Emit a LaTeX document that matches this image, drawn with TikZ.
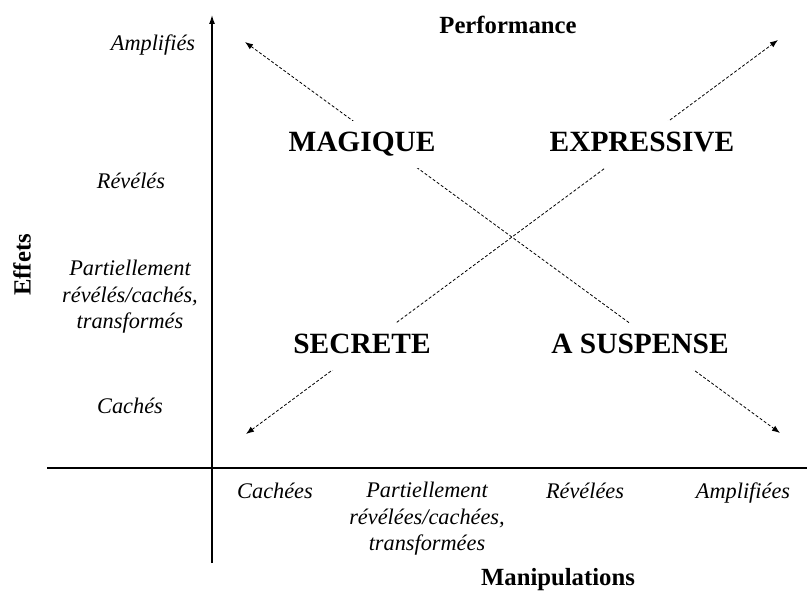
\documentclass[tikz,border=0pt]{standalone}
\usepackage{fontspec}
\setmainfont{Liberation Serif}
\usetikzlibrary{arrows.meta}

\begin{document}
\begin{tikzpicture}[x=1pt, y=-1pt, every node/.style={inner sep=0pt},
    ticklabel/.style={font=\fontsize{22.3}{26.5}\selectfont\itshape, align=center},
    tickline/.style={ticklabel, text height=16pt, text depth=5pt},
    axistitle/.style={font=\fontsize{24.7}{28}\selectfont\bfseries},
    quadrant/.style={font=\fontsize{29.4}{32}\selectfont\bfseries, fill=white,
        minimum height=47pt, inner xsep=6pt, text height=20pt, text depth=6pt},
    trend/.style={dash pattern=on 3pt off 2pt, line width=0.8pt,
        {Latex[length=8pt,width=6pt]}-{Latex[length=8pt,width=6pt]}}]
    \useasboundingbox (0,0) rectangle (807,607);

    % axes
    \coordinate (ybot) at (212,563);
    \coordinate (ytop) at (212,15);
    \coordinate (xleft) at (47,468);
    \coordinate (xright) at (807,468);
    \draw[line width=1.2pt, -{Latex[length=9pt,width=6pt]}] (ybot) -- (ytop);
    \draw[line width=1.2pt] (xleft) -- (xright);

    \node[axistitle] (perf) at (508,25) {Performance};
    \node[axistitle] (manip) at (558,580) {Manipulations};
    \node[axistitle, rotate=90] (effets) at (22,265) {Effets};

    % effets (y axis)
    \node[tickline] (eamp) at (153,45) {Amplifiés};
    \node[tickline] (erev) at (131,183) {Révélés};
    \node[ticklabel] (epart) at (130,297) {Partiellement\\révélés/cachés,\\transformés};
    \node[tickline] (ecach) at (130,408) {Cachés};

    % manipulations (x axis)
    \node[tickline] (mcach) at (275,493) {Cachées};
    \node[ticklabel] (mpart) at (427,519) {Partiellement\\révélées/cachées,\\transformées};
    \node[tickline] (mrev) at (585,493) {Révélées};
    \node[tickline] (mamp) at (743,493) {Amplifiées};

    % diagonals
    \coordinate (ctl) at (245,42);
    \coordinate (cbr) at (780,433);
    \coordinate (cbl) at (246,434);
    \coordinate (ctr) at (778,40);
    \draw[trend] (ctl) -- (cbr);
    \draw[trend] (cbl) -- (ctr);

    % quadrants
    \node[quadrant] (magique) at (362,145) {MAGIQUE};
    \node[quadrant] (expressive) at (642,145) {EXPRESSIVE};
    \node[quadrant] (secrete) at (362,346) {SECRETE};
    \node[quadrant] (suspense) at (640,346) {A SUSPENSE};
\end{tikzpicture}
\end{document}
